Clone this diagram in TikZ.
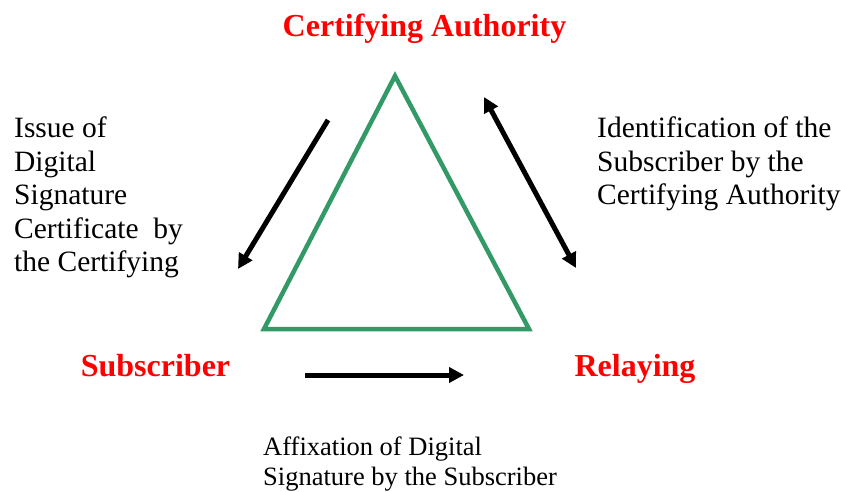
\documentclass[tikz,border=0pt]{standalone}
\usepackage{fontspec}
\setmainfont{Liberation Serif}
\usetikzlibrary{arrows.meta}
\definecolor{trigreen}{RGB}{51,153,102}
\definecolor{titlered}{RGB}{255,0,0}

\tikzset{
  party/.style={font=\fontsize{32}{34}\selectfont\bfseries,text=titlered,inner sep=0pt,anchor=base},
  note/.style={font=\fontsize{29.5}{33.5}\selectfont,align=left,anchor=north west,inner sep=0pt},
  flow/.style={line width=5pt,-{Triangle[length=15pt,width=15pt]}},
}

\begin{document}
\begin{tikzpicture}[x=1pt,y=-1pt]
                      \useasboundingbox (0,0) rectangle (841,491);
                      % triangle
                      \coordinate (top) at (395,76);
                      \coordinate (bl) at (264,329);
                      \coordinate (br) at (529,329);
                      \draw[trigreen,line width=4.5pt,line join=miter] (top)--(br)--(bl)--cycle;
                      % parties
                      \node[party](ca)at(424.5,36){Certifying Authority};
                      \node[party](sub)at(155.5,376){Subscriber};
                      \node[party](rel)at(635,376){Relaying};
                      % notes
                      \node[note](issue)at(14,117){Issue of\\Digital\\Signature\\Certificate~ by\\the Certifying};
                      \node[note](ident)at(597,117){Identification of the\\Subscriber by the\\Certifying Authority};
                      \node[note,font=\fontsize{26.5}{30}\selectfont](affix)at(263,437){Affixation of Digital\\Signature by the Subscriber};
                      % arrows
                      \coordinate (i1) at (328,120);
                      \coordinate (i2) at (238,269);
                      \coordinate (d1) at (484,97);
                      \coordinate (d2) at (576,268);
                      \coordinate (a1) at (305,375);
                      \coordinate (a2) at (464,375);
                      \draw[flow](i1)--(i2);
                      \draw[flow,{Triangle[length=15pt,width=15pt]}-{Triangle[length=15pt,width=15pt]}](d1)--(d2);
                      \draw[flow](a1)--(a2);
                  \end{tikzpicture}
\end{document}
